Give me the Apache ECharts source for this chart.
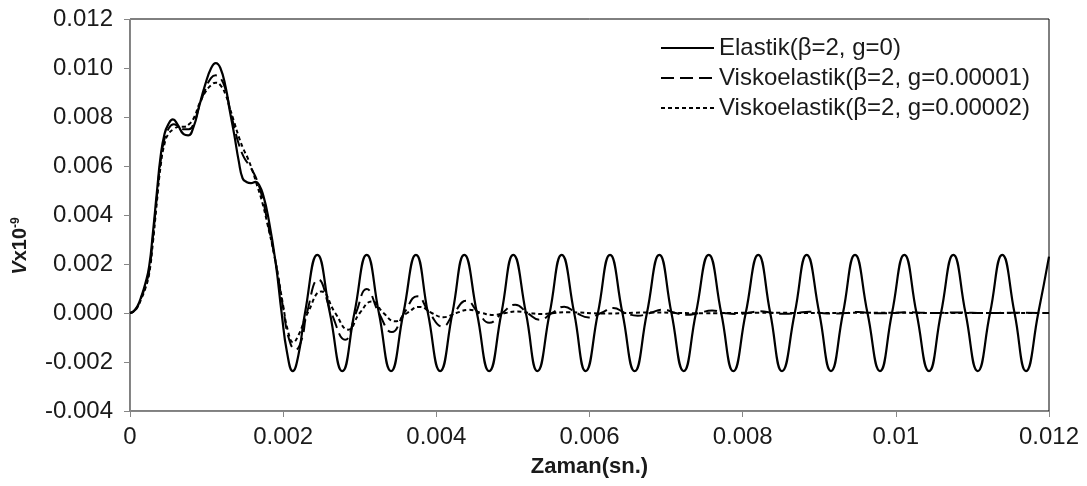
<!DOCTYPE html>
<html>
<head>
<meta charset="utf-8">
<script src="https://cdn.jsdelivr.net/npm/echarts@6/dist/echarts.min.js"></script>
<style>
html,body{margin:0;padding:0;background:#fff;}
#chart{width:1087px;height:486px;}
</style>
</head>
<body>
<div id="chart"></div>
<script>
const seriesNames = ['Elastik(β=2, g=0)', 'Viskoelastik(β=2, g=0.00001)', 'Viskoelastik(β=2, g=0.00002)'];
const xTickLabels = ['0', '0.002', '0.004', '0.006', '0.008', '0.01', '0.012'];
const yTickLabels = ['-0.004', '-0.002', '0.000', '0.002', '0.004', '0.006', '0.008', '0.010', '0.012'];

const elastik = [
[0,0],[0.00005,0.00008],[0.0001,0.0003],[0.00015,0.0007],[0.0002,0.0012],[0.00025,0.0019],[0.0003,0.0033],[0.00035,0.0049],[0.0004,0.0064],[0.00045,0.0073],[0.0005,0.0077],[0.00056,0.0079],[0.00062,0.0077],[0.0007,0.0073],[0.00076,0.00725],[0.00083,0.0076],[0.0009,0.0084],[0.00098,0.0093],[0.00106,0.0100],[0.00112,0.0102],[0.00118,0.0100],[0.00125,0.0092],[0.0013,0.0083],[0.00136,0.0073],[0.00142,0.0062],[0.00147,0.0055],[0.00152,0.00535],[0.00158,0.0053],[0.00164,0.00535],[0.00169,0.0052],[0.00174,0.0048],[0.0018,0.004],[0.0019,0.0021],[0.00198,0],[0.00205,-0.0016],[0.002125,-0.00237],[0.0022,-0.0017],
[0.002285,0],[0.002446,0.00237],[0.00261,0],[0.002772,-0.00237],[0.00293,0],[0.003091,0.00237],[0.00325,0],[0.003408,-0.00237],[0.00357,0],[0.003734,0.00237],[0.00389,0],[0.00405,-0.00237],[0.00421,0],[0.004365,0.00237],[0.00453,0],[0.00469,-0.00237],[0.00485,0],[0.005005,0.00237],[0.00517,0],[0.00532,-0.00237],[0.00548,0],[0.005637,0.00237],[0.0058,0],[0.00595,-0.00237],[0.00611,0],[0.006268,0.00237],[0.00643,0],[0.00659,-0.00237],[0.00675,0],[0.006912,0.00237],[0.00707,0],[0.00723,-0.00237],[0.00739,0],[0.007557,0.00237],[0.00772,0],[0.007878,-0.00237],[0.00804,0],[0.008204,0.00237],[0.00836,0],[0.008514,-0.00237],[0.00868,0],[0.008836,0.00237],[0.009,0],[0.009153,-0.00237],[0.00931,0],[0.009467,0.00237],[0.00963,0],[0.009793,-0.00237],[0.00995,0],[0.010111,0.00237],[0.01027,0],[0.010433,-0.00237],[0.01059,0],[0.010751,0.00237],[0.01091,0],[0.011069,-0.00237],[0.01123,0],[0.01139,0.00237],[0.01155,0],[0.0117,-0.00237],[0.01186,0],[0.012,0.0023]
];

const visko1 = [
[0,0],[0.00005,0.00007],[0.0001,0.00027],[0.00015,0.00065],[0.0002,0.0011],[0.00025,0.0017],[0.0003,0.0031],[0.00035,0.0047],[0.0004,0.0062],[0.00045,0.0071],[0.0005,0.0075],[0.00057,0.0077],[0.00064,0.0076],[0.0007,0.0075],[0.00077,0.0075],[0.00084,0.0078],[0.0009,0.0084],[0.00098,0.0091],[0.00106,0.0096],[0.00112,0.0097],[0.00118,0.0096],[0.00125,0.0091],[0.0013,0.0084],[0.00136,0.0076],[0.00142,0.0069],[0.00148,0.0064],[0.00154,0.0061],[0.0016,0.0058],[0.00166,0.0054],[0.00172,0.0048],[0.00179,0.0038],[0.0019,0.0021],[0.002,0.0002],[0.00208,-0.0011],[0.00216,-0.0015],[0.00224,-0.0011],[0.00231,0],[0.00246,0.00136],[0.00263,0],[0.00281,-0.00109],[0.00295,0],[0.00309,0.00098],[0.00325,0],[0.00342,-0.00078],[0.00358,0],[0.00375,0.00068],[0.00391,0],[0.00408,-0.00055],[0.00423,0],[0.00439,0.0005],[0.00455,0],[0.00469,-0.0004],[0.00486,0],[0.00503,0.00034],[0.00519,0],[0.00535,-0.00028],[0.00551,0],[0.00567,0.00026],[0.00583,0],[0.00599,-0.00018],[0.00615,0],[0.00631,0.0002],[0.00647,0],[0.00663,-0.00011],[0.00679,0],[0.00696,0.00014],[0.00712,0],[0.00727,-0.00007],[0.00743,0],[0.0076,0.0001],[0.00776,0],[0.00791,-0.00004],[0.00807,0],[0.00823,0.00007],[0.00839,0],[0.00855,-0.00003],[0.00871,0],[0.00887,0.00005],[0.00903,0],[0.00919,-0.00002],[0.00935,0],[0.00951,0.00004],[0.00967,0],[0.00983,-0.00001],[0.00999,0],[0.01015,0.00003],[0.0105,0],[0.0108,0.00002],[0.0112,0],[0.0115,0.00001],[0.012,0]
];

const visko2 = [
[0,0],[0.00005,0.00006],[0.0001,0.00025],[0.00015,0.0006],[0.0002,0.001],[0.00025,0.0016],[0.0003,0.0029],[0.00035,0.0045],[0.0004,0.006],[0.00045,0.0069],[0.0005,0.0073],[0.00057,0.0075],[0.00064,0.0076],[0.0007,0.0076],[0.00077,0.0077],[0.00084,0.008],[0.0009,0.0085],[0.00098,0.009],[0.00106,0.0093],[0.00112,0.0094],[0.00118,0.0093],[0.00125,0.0089],[0.0013,0.0084],[0.00136,0.0078],[0.00142,0.0072],[0.00148,0.0067],[0.00154,0.0063],[0.0016,0.0058],[0.00166,0.0052],[0.00172,0.0046],[0.00179,0.0037],[0.0019,0.0021],[0.002,0.0003],[0.00206,-0.0007],[0.00213,-0.0012],[0.0022,-0.0009],[0.00232,0],[0.0025,0.00088],[0.00268,0],[0.00285,-0.00068],[0.003,0],[0.00316,0.00047],[0.00331,0],[0.00346,-0.00034],[0.00362,0],[0.00378,0.00025],[0.00394,0],[0.00409,-0.00017],[0.00426,0],[0.00443,0.00013],[0.00459,0],[0.00475,-0.00008],[0.0049,0],[0.00506,0.00006],[0.00522,0],[0.00538,-0.00004],[0.00554,0],[0.0057,0.00003],[0.0062,-0.00002],[0.0068,0.00002],[0.0075,-0.00001],[0.0082,0.00001],[0.009,0],[0.0098,0.00001],[0.0106,0],[0.0114,0],[0.012,0]
];

const FONT = '"Liberation Sans", Arial, sans-serif';
const chart = echarts.init(document.getElementById('chart'), null, {renderer: 'canvas'});
chart.setOption({
  animation: false,
  backgroundColor: '#fff',
  grid: {left: 130, right: 38, top: 19, bottom: 75, show: true, borderColor: '#000', borderWidth: 1},
  legend: {
    orient: 'vertical', left: 655, top: 31, itemWidth: 53, itemHeight: 14, itemGap: 6,
    itemStyle: {opacity: 0},
    textStyle: {fontFamily: FONT, fontSize: 24, color: '#1a1a1a'},
    data: seriesNames
  },
  xAxis: {
    type: 'value', min: 0, max: 0.012, interval: 0.002,
    name: 'Zaman(sn.)', nameLocation: 'middle', nameGap: 45,
    nameTextStyle: {fontFamily: FONT, fontSize: 22, fontWeight: 'bold', color: '#1a1a1a'},
    axisLine: {show: true, onZero: false, lineStyle: {color: '#868686', width: 1}},
    axisTick: {show: true, length: 6, inside: false, lineStyle: {color: '#868686'}},
    splitLine: {show: false},
    axisLabel: {fontFamily: FONT, fontSize: 24, color: '#1a1a1a', margin: 14,
      formatter: (v, i) => xTickLabels[i]}
  },
  yAxis: {
    type: 'value', min: -0.004, max: 0.012, interval: 0.002,
    name: '{i|V}{n|x10}{s|-9}', nameLocation: 'middle', nameGap: 100, nameRotate: 90,
    nameTextStyle: {
      padding: [0, 62, 0, 0],
      rich: {
        i: {fontFamily: FONT, fontSize: 20, fontWeight: 'bold', fontStyle: 'italic', color: '#1a1a1a', verticalAlign: 'bottom'},
        n: {fontFamily: FONT, fontSize: 20, fontWeight: 'bold', color: '#1a1a1a', verticalAlign: 'bottom'},
        s: {fontFamily: FONT, fontSize: 12, fontWeight: 'bold', color: '#1a1a1a', verticalAlign: 'top'}
      }
    },
    axisLine: {show: true, onZero: false, lineStyle: {color: '#868686', width: 1}},
    axisTick: {show: true, length: 6, inside: false, lineStyle: {color: '#868686'}},
    splitLine: {show: false},
    axisLabel: {fontFamily: FONT, fontSize: 24, color: '#1a1a1a', margin: 17,
      formatter: (v, i) => yTickLabels[i]}
  },
  series: [
    {name: seriesNames[2], type: 'line', data: visko2, smooth: 0.5, showSymbol: false, symbol: 'none',
     lineStyle: {color: '#000', width: 2, type: [4, 3]}, itemStyle: {color: '#000'}},
    {name: seriesNames[1], type: 'line', data: visko1, smooth: 0.5, showSymbol: false, symbol: 'none',
     lineStyle: {color: '#000', width: 2, type: [13, 6]}, itemStyle: {color: '#000'}},
    {name: seriesNames[0], type: 'line', data: elastik, smooth: 0.5, showSymbol: false, symbol: 'none',
     lineStyle: {color: '#000', width: 2.2, type: 'solid'}, itemStyle: {color: '#000'}}
  ]
});
</script>
</body>
</html>
